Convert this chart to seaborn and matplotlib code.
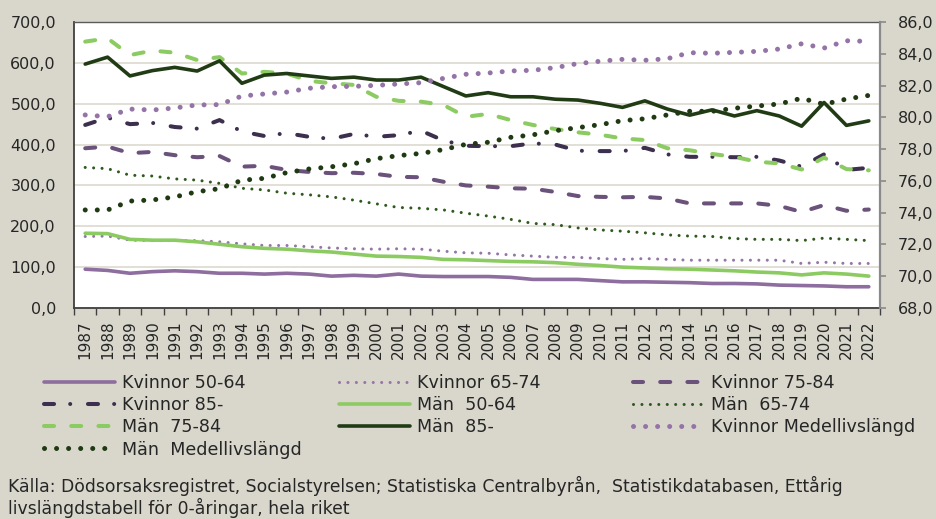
import numpy as np
import pandas as pd
import seaborn as sns
import matplotlib.pyplot as plt
from matplotlib.ticker import FixedLocator, FuncFormatter

years = list(range(1987, 2023))

kvinnor_50_64 = [95, 92, 85, 89, 91, 89, 85, 85, 83,
                 85, 83, 78, 80, 78, 83, 78, 77, 77,
                 77, 75, 70, 70, 70, 67, 64, 64, 63,
                 62, 60, 60, 59, 56, 55, 54, 52, 52]
kvinnor_65_74 = [175, 176, 166, 165, 165, 165, 162, 157, 153,
                 153, 150, 147, 145, 144, 145, 144, 139, 135,
                 134, 130, 127, 124, 124, 121, 119, 121, 119,
                 117, 117, 117, 117, 117, 109, 112, 109, 109]
kvinnor_75_84 = [391, 395, 379, 382, 374, 369, 372, 346, 348,
                 338, 333, 330, 331, 328, 321, 320, 309, 300,
                 297, 293, 292, 284, 274, 272, 271, 272, 268,
                 256, 256, 256, 256, 250, 235, 252, 238, 241]
kvinnor_85 = [448, 466, 450, 453, 443, 439, 460, 432, 421,
              428, 419, 414, 426, 419, 423, 434, 410, 397,
              396, 396, 403, 400, 385, 384, 384, 392, 376,
              370, 370, 369, 370, 361, 346, 376, 338, 343]
man_50_64 = [183, 182, 168, 166, 166, 162, 156, 150, 146,
             144, 140, 137, 132, 127, 126, 124, 119, 118,
             116, 114, 113, 111, 107, 104, 100, 98, 96,
             95, 93, 91, 88, 86, 81, 86, 83, 78]
man_65_74 = [344, 341, 325, 323, 316, 313, 305, 293, 289,
             281, 277, 272, 264, 255, 246, 244, 240, 232,
             225, 217, 207, 204, 196, 191, 188, 184, 179,
             176, 175, 170, 168, 168, 165, 171, 168, 165]
man_75_84 = [652, 660, 619, 630, 625, 607, 614, 574, 578,
             574, 556, 550, 546, 517, 507, 505, 497, 468,
             475, 460, 448, 438, 430, 424, 415, 411, 391,
             386, 377, 370, 358, 354, 339, 368, 340, 337]
man_85 = [597, 614, 568, 581, 589, 580, 605, 550, 570,
          574, 568, 562, 565, 558, 558, 565, 542, 519,
          527, 517, 517, 511, 509, 501, 491, 507, 487,
          472, 485, 470, 483, 470, 445, 503, 447, 458]
kvinnor_medel = [80.15, 80.04, 80.52, 80.46, 80.59, 80.78, 80.8, 81.34, 81.47,
                 81.59, 81.83, 81.93, 81.95, 82.01, 82.1, 82.18, 82.45, 82.71,
                 82.79, 82.92, 82.96, 83.13, 83.38, 83.53, 83.65, 83.59, 83.69,
                 84.07, 84.03, 84.09, 84.15, 84.3, 84.63, 84.36, 84.82, 84.78]
man_medel = [74.17, 74.17, 74.73, 74.8, 74.99, 75.32, 75.51, 76.04, 76.16,
             76.52, 76.75, 76.89, 77.08, 77.4, 77.59, 77.73, 77.97, 78.3,
             78.43, 78.74, 78.9, 79.16, 79.35, 79.54, 79.79, 79.91, 80.15,
             80.38, 80.38, 80.57, 80.71, 80.84, 81.2, 80.82, 81.15, 81.38]

labels = ["Kvinnor 50-64", "Kvinnor 65-74", "Kvinnor 75-84", "Kvinnor 85-",
          "Män  50-64", "Män  65-74", "Män  75-84", "Män  85-",
          "Kvinnor Medellivslängd", "Män  Medellivslängd"]

source = ["Källa: Dödsorsaksregistret, Socialstyrelsen; Statistiska Centralbyrån,  Statistikdatabasen, Ettårig",
          "livslängdstabell för 0-åringar, hela riket"]

SMALL_DOT = (0, (0.01, 2.75))
BIG_DOT = (0, (0.01, 2.4))
LONG_DASH = (0, (2.5, 4.25))
DASH_DOT = (0, (2.5, 4.0, 0.01, 4.4))

# (values, colour, width, linestyle, secondary axis)
styles = [
    (kvinnor_50_64, "#8E6D9F", 2.6, "-", False),
    (kvinnor_65_74, "#9675A8", 2.2, SMALL_DOT, False),
    (kvinnor_75_84, "#6B527B", 2.9, LONG_DASH, False),
    (kvinnor_85, "#3D2F4E", 2.9, DASH_DOT, False),
    (man_50_64, "#8CCB62", 2.6, "-", False),
    (man_65_74, "#2F5A1E", 2.2, SMALL_DOT, False),
    (man_75_84, "#8CCB62", 2.9, LONG_DASH, False),
    (man_85, "#213C15", 2.6, "-", False),
    (kvinnor_medel, "#9474A6", 3.6, BIG_DOT, True),
    (man_medel, "#1F3A13", 3.6, BIG_DOT, True),
]

plt.rcParams["font.family"] = ["DejaVu Sans"]
text_color = "#262626"
bg = "#D9D7CC"

fig = plt.figure(figsize=(9.37, 5.19), dpi=100, facecolor=bg)
ax = fig.add_axes([74 / 937, 1 - 308 / 519, (880 - 74) / 937, (308 - 22) / 519])
ax.set_facecolor("white")
ax2 = ax.twinx()

handles = []
for (vals, col, lw, ls, sec), lab in zip(styles, labels):
    target = ax2 if sec else ax
    sns.lineplot(x=years, y=vals, ax=target, color=col, linewidth=lw,
                 legend=False, label=lab)
    line = target.lines[-1]
    line.set_linestyle(ls)
    line.set_dash_capstyle("round")
    line.set_solid_capstyle("round")
    line.set_solid_joinstyle("round")
    handles.append(line)

comma = FuncFormatter(lambda v, p: f"{v:.1f}".replace(".", ","))

ax.set_xlim(1986.5, 2022.5)
ax.set_ylim(0, 700)
ax.set_yticks(np.arange(0, 701, 100))
ax.yaxis.set_major_formatter(comma)
ax.set_xticks(years)
ax.set_xticklabels([str(y) for y in years], rotation=90)
ax.xaxis.set_minor_locator(FixedLocator(np.arange(1986.5, 2023, 1)))
ax.tick_params(axis="x", which="major", length=0, pad=9, labelsize=11, labelcolor=text_color)
ax.tick_params(axis="x", which="minor", length=5, width=1, color="#404040", direction="out")
ax.tick_params(axis="y", length=0, pad=13, labelsize=11.5, labelcolor=text_color)
ax.set_xlabel("")
ax.set_ylabel("")
ax.grid(axis="y", color="#DDD9D0", linewidth=1.2)
ax.grid(axis="x", visible=False)
ax.set_axisbelow(True)

ax2.set_ylim(68, 86)
ax2.set_yticks(np.arange(68, 86.1, 2))
ax2.yaxis.set_major_formatter(comma)
ax2.tick_params(axis="y", length=4, width=1.2, color="#8A8A8A", pad=9,
                labelsize=11.5, labelcolor=text_color)
ax2.set_ylabel("")
ax2.grid(False)

for name in ["left", "bottom"]:
    ax.spines[name].set_color("#404040")
    ax.spines[name].set_linewidth(1.3)
ax.spines["top"].set_color("#5A5A5A")
ax.spines["top"].set_linewidth(1.0)
ax.spines["right"].set_visible(False)
for name in ["left", "bottom", "top"]:
    ax2.spines[name].set_visible(False)
ax2.spines["right"].set_color("#8A8A8A")
ax2.spines["right"].set_linewidth(1.6)

# legend in three columns, filled row by row
fs = 12.6
col_x = [44, 339, 633]
for c in range(3):
    idx = list(range(c, 10, 3))
    fig.legend([handles[i] for i in idx], [labels[i] for i in idx],
               loc="upper left", bbox_to_anchor=(col_x[c] / 937, 1 - 374 / 519),
               frameon=False, fontsize=fs, handlelength=4.05, handletextpad=0.4,
               borderpad=0, borderaxespad=0, labelspacing=0.24, labelcolor=text_color)

fig.text(8 / 937, 1 - 486 / 519, source[0], fontsize=12.4, color=text_color, va="center")
fig.text(8 / 937, 1 - 508 / 519, source[1], fontsize=12.4, color=text_color, va="center")

fig.savefig("out.png", dpi=100, facecolor=bg)
